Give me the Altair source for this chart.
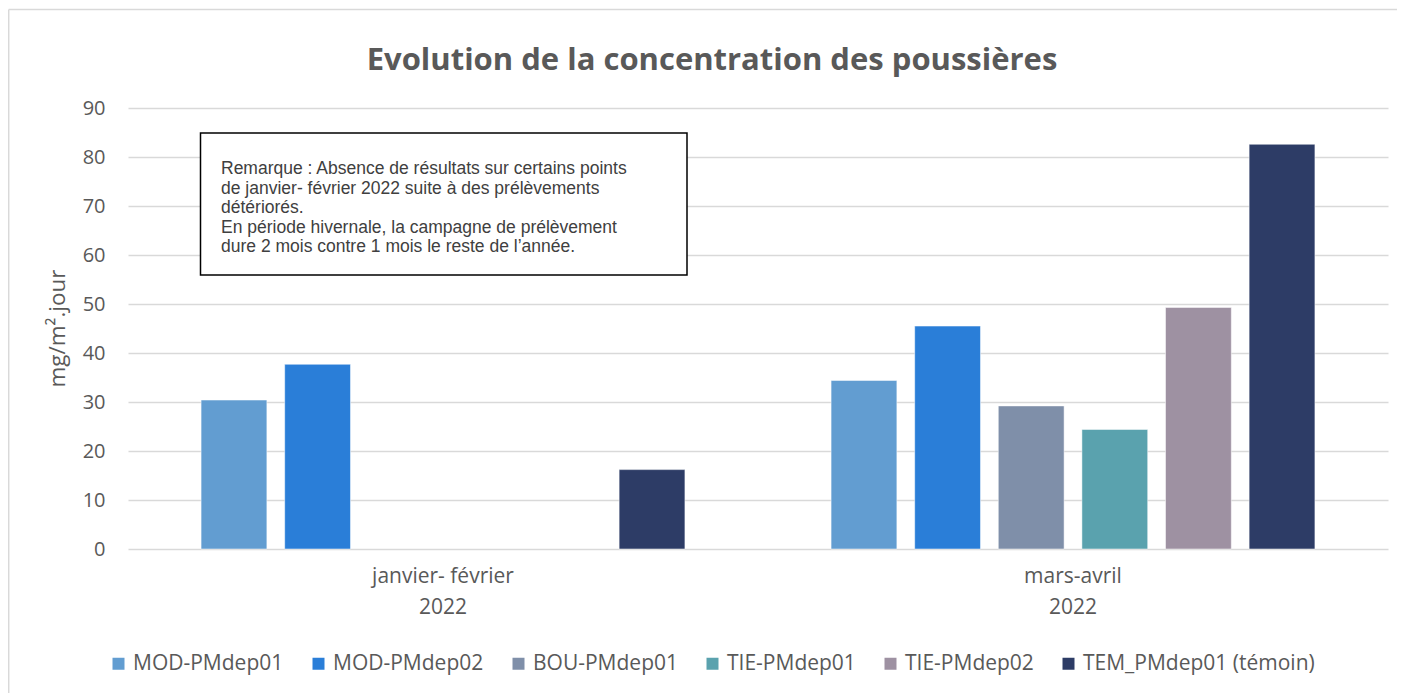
import altair as alt
import pandas as pd

periods = ["janvier- février|2022", "mars-avril|2022"]
series = ["MOD-PMdep01", "MOD-PMdep02", "BOU-PMdep01", "TIE-PMdep01",
          "TIE-PMdep02", "TEM_PMdep01 (témoin)"]
jan_fev = [30.4, 37.7, None, None, None, 16.2]
mars_avril = [34.4, 45.5, 29.2, 24.4, 49.3, 82.6]
colors = ["#629dd1", "#2a7ed8", "#7f8fa9", "#5aa2ae", "#9e91a2", "#2d3c66"]
y_ticks = [0, 10, 20, 30, 40, 50, 60, 70, 80, 90]
title_text = "Evolution de la concentration des poussières"
y_title = "mg/m².jour"
note_lines = [
    "Remarque : Absence de résultats sur certains points",
    "de janvier- février 2022 suite à des prélèvements",
    "détériorés.",
    "En période hivernale, la campagne de prélèvement",
    "dure 2 mois contre 1 mois le reste de l\u2019année.",
]

rows = []
for p, vals in zip(periods, [jan_fev, mars_avril]):
    for s, v in zip(series, vals):
        if v is not None:
            rows.append({"period": p, "series": s, "value": v})
df = pd.DataFrame(rows)
one = pd.DataFrame({"k": [0]})

GREY = "#595959"
FONT = "Open Sans"

bars = alt.Chart(df).mark_bar(stroke="white", strokeWidth=1, strokeOpacity=0.5).encode(
    x=alt.X("period:N", sort=periods,
            scale=alt.Scale(paddingInner=0, paddingOuter=0),
            axis=alt.Axis(title=None, labelExpr="split(datum.label, '|')",
                          labelFontSize=21, labelFont=FONT, labelColor=GREY,
                          labelLineHeight=31, ticks=False, domain=False,
                          labelPadding=16, labelAngle=0, grid=False)),
    xOffset=alt.XOffset("series:N", sort=series,
                        scale=alt.Scale(domain=series, paddingInner=0.213,
                                        paddingOuter=0.874)),
    y=alt.Y("value:Q", scale=alt.Scale(domain=[0, 90]),
            axis=alt.Axis(values=y_ticks, title=None, grid=True,
                          gridColor="#d9d9d9", gridWidth=1.5, domain=False,
                          ticks=False, labelPadding=23, labelFontSize=20,
                          labelFont=FONT, labelColor=GREY)),
    color=alt.Color("series:N", sort=series,
                    scale=alt.Scale(domain=series, range=colors),
                    legend=alt.Legend(orient="none", legendX=-20, legendY=545,
                                      direction="horizontal", title=None,
                                      symbolType="square", symbolSize=144,
                                      symbolStrokeWidth=0, labelFontSize=21,
                                      labelFont=FONT, labelColor=GREY,
                                      labelLimit=400, columnPadding=24,
                                      labelOffset=4, padding=0)),
)

border_left = alt.Chart(one).mark_rule(color="#d9d9d9", strokeWidth=1.5).encode(
    x=alt.value(-119.3), y=alt.value(-98.5), y2=alt.value(700))
border_top = alt.Chart(one).mark_rule(color="#d9d9d9", strokeWidth=1.5).encode(
    x=alt.value(-119.3), x2=alt.value(1300), y=alt.value(-98.5))

note_box = alt.Chart(one).mark_rect(fill="white", stroke="black", strokeWidth=1.5).encode(
    x=alt.value(72.5), x2=alt.value(559), y=alt.value(25), y2=alt.value(167))

note_text = alt.Chart(one).mark_text(
    text=note_lines, align="left", baseline="alphabetic", font="Liberation Sans",
    fontSize=17.5, lineHeight=19.5, color="#404040").encode(
    x=alt.value(93), y=alt.value(66))

title = alt.Chart(one).mark_text(
    text=title_text, align="center", baseline="alphabetic", font=FONT,
    fontWeight="bold", fontSize=31, color=GREY).encode(
    x=alt.value(584), y=alt.value(-38))

ytitle = alt.Chart(one).mark_text(
    text=y_title, align="center", baseline="middle", font=FONT,
    fontSize=22.5, angle=270, color=GREY).encode(
    x=alt.value(-70), y=alt.value(220.5))

chart = alt.layer(border_left, border_top, bars, note_box, note_text, title, ytitle).properties(
    width=1260, height=441,
    background="white",
    padding={"left": 120, "top": 100, "right": 9, "bottom": 144},
    autosize=alt.AutoSizeParams(type="none"),
).configure_view(stroke=None)

chart.save("out.html", embed_options={"renderer": "svg", "actions": False})
